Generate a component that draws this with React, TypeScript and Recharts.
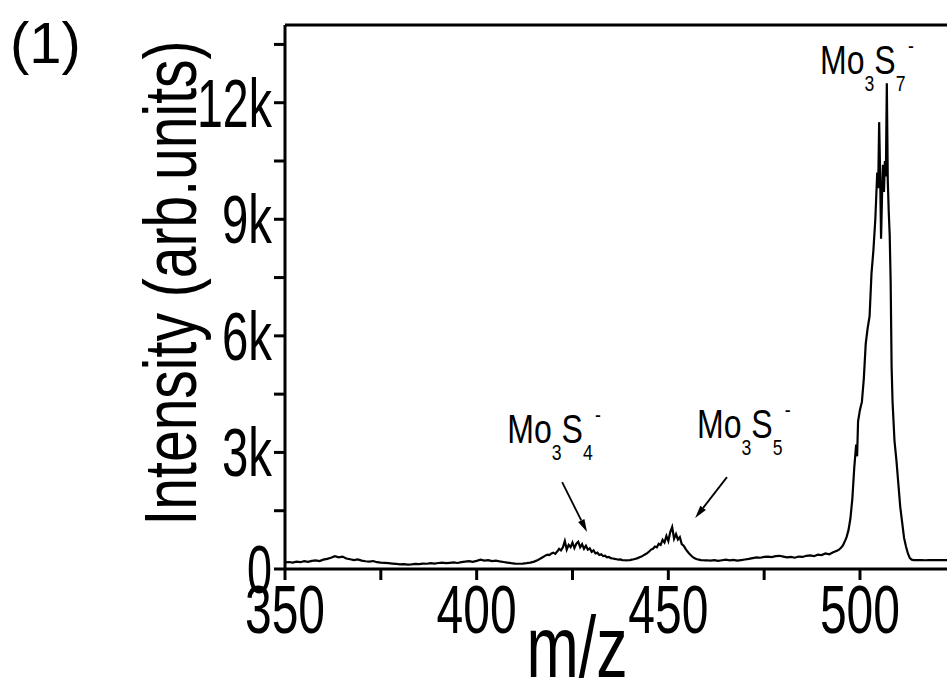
import { LineChart, Line, XAxis, YAxis, ReferenceLine, ReferenceDot } from 'recharts';

const FONT = "'Liberation Sans', Arial, sans-serif";

// [m/z, intensity], split by region
const lowMass = [
  [350, 170], [351, 180], [352, 165], [353, 190], [354, 175], [355, 200], [356, 185], [357, 210],
  [358, 220], [359, 205], [360, 240], [361, 260], [362, 290], [363, 330], [364, 300], [365, 320],
  [366, 270], [367, 250], [368, 230], [369, 245], [370, 215], [371, 200], [372, 190], [373, 205],
  [374, 175], [375, 165], [376, 160], [377, 150], [378, 140], [379, 130], [380, 120], [381, 125],
  [382, 115], [383, 120], [384, 130], [385, 125], [386, 140], [387, 135], [388, 150], [389, 140],
  [390, 155], [391, 165], [392, 150], [393, 160], [394, 170], [395, 155], [396, 175], [397, 190],
  [398, 200], [399, 185], [400, 210], [401, 240], [402, 215], [403, 230], [404, 205], [405, 215],
  [406, 195], [407, 180], [408, 165], [409, 150], [410, 140], [411, 135], [412, 140], [413, 150],
  [414, 165], [415, 190], [416, 230],
];

const mo3s4Region = [
  [416.5, 260], [417, 290], [417.5, 320], [418, 350], [418.5, 370], [419, 360], [419.5, 400],
  [420, 420], [420.5, 390], [421, 450], [421.5, 520], [422, 480], [422.5, 560], [423, 720],
  [423.5, 500], [424, 620], [424.5, 560], [425, 680], [425.5, 540], [426, 650], [426.5, 700],
  [427, 560], [427.5, 640], [428, 520], [428.5, 600], [429, 500], [429.5, 530], [430, 440],
  [430.5, 480], [431, 400], [431.5, 420], [432, 360], [432.5, 380], [433, 330], [433.5, 340],
  [434, 300], [434.5, 310], [435, 280], [435.5, 270], [436, 260], [436.5, 250], [437, 240],
  [437.5, 245], [438, 230], [438.5, 225], [439, 220], [439.5, 225], [440, 230], [440.5, 240],
  [441, 250], [441.5, 265], [442, 280], [442.5, 300],
];

const mo3s5Region = [
  [443, 320], [443.5, 350], [444, 380], [444.5, 410], [445, 450], [445.5, 500], [446, 520],
  [446.5, 580], [447, 560], [447.5, 650], [448, 620], [448.5, 750], [449, 680], [449.5, 850],
  [450, 720], [450.5, 950], [451, 1080], [451.5, 780], [452, 900], [452.5, 760], [453, 820],
  [453.5, 640], [454, 600], [454.5, 520], [455, 450], [455.5, 390], [456, 340], [456.5, 300],
  [457, 270], [457.5, 250], [458, 240], [458.5, 230], [459, 225], [459.5, 220], [460, 225],
];

const midMass = [
  [461, 215], [462, 230], [463, 210], [464, 225], [465, 240], [466, 220], [467, 235], [468, 215],
  [469, 230], [470, 245], [471, 260], [472, 280], [473, 300], [474, 290], [475, 310], [476, 320],
  [477, 305], [478, 330], [479, 340], [480, 320], [481, 300], [482, 310], [483, 290], [484, 320],
  [485, 310], [486, 340], [487, 350], [488, 330], [489, 370], [490, 360], [491, 400], [492, 380],
  [493, 430], [494, 470],
];

const mo3s7Region = [
  [494.5, 500], [495, 540], [495.5, 600], [496, 700], [496.5, 820], [497, 1000], [497.5, 1300],
  [498, 1800], [498.5, 2600], [499, 3200], [499.25, 2900], [499.5, 3800], [500, 4100],
  [500.5, 4300], [501, 4900], [501.5, 5800], [502, 6200], [502.5, 6500], [503, 7600],
  [503.5, 8200], [504, 9000], [504.25, 9600], [504.5, 10200], [504.75, 9800], [505, 11500],
  [505.25, 10200], [505.5, 8500], [505.75, 9600], [506, 10400], [506.25, 9700], [506.5, 10500],
  [506.75, 10100], [507, 12500], [507.25, 10000], [507.5, 9200], [507.75, 8600], [508, 7400],
  [508.25, 5200], [508.5, 4300], [509, 3300], [509.5, 2800], [510, 2200], [510.5, 1600],
  [511, 1200], [511.5, 800], [512, 580], [512.5, 400], [513, 280], [513.5, 240], [514, 230],
];

const highMass = [
  [515, 228], [516, 230], [517, 225], [518, 230], [519, 228], [520, 232], [521, 230], [522, 228], [523, 230],
];

const xTicks = [350, 375, 400, 425, 450, 475, 500];
const yTicks = [0, 1500, 3000, 4500, 6000, 7500, 9000, 10500, 12000, 13500];

const data = [...lowMass, ...mo3s4Region, ...mo3s5Region, ...midMass, ...mo3s7Region, ...highMass].map(
  ([mz, v]) => ({ mz, v })
);

const XTick = (props: any) => {
  const { x, y, payload } = props;
  const v = payload.value;
  if (v % 50 !== 0) return <g />;
  const s = String(v);
  return (
    <text x={x} y={y + 51} textAnchor="middle" fontSize={68} fontFamily={FONT} fill="#000"
      textLength={s.length * 26.7} lengthAdjust="spacingAndGlyphs">{s}</text>
  );
};

const YTick = (props: any) => {
  const { x, y, payload } = props;
  const v = payload.value;
  if (v % 3000 !== 0) return <g />;
  const s = v === 0 ? '0' : `${v / 1000}k`;
  return (
    <text x={x} y={y + 24} textAnchor="end" fontSize={68} fontFamily={FONT} fill="#000"
      textLength={s.length * 25} lengthAdjust="spacingAndGlyphs">{s}</text>
  );
};

const Formula = ({ cx, cy, n }: any) => (
  <g transform={`translate(${cx},${cy}) scale(0.8,1)`}>
    <text x={0} y={0} fontFamily={FONT} fill="#000">
      <tspan fontSize={40}>Mo</tspan>
      <tspan fontSize={22} dy={17}>3</tspan>
      <tspan fontSize={40} dy={-17}>S</tspan>
      <tspan fontSize={22} dy={17}>{n}</tspan>
      <tspan fontSize={22} dy={-38} dx={3}>-</tspan>
    </text>
  </g>
);

const Arrow = (props: any) => {
  const { x1, y1, x2, y2 } = props;
  const a = Math.atan2(y2 - y1, x2 - x1);
  const len = 13;
  const w = 3.5;
  const bx = x2 - len * Math.cos(a);
  const by = y2 - len * Math.sin(a);
  const px = -Math.sin(a) * w;
  const py = Math.cos(a) * w;
  return (
    <g>
      <line x1={x1} y1={y1} x2={bx} y2={by} stroke="#000" strokeWidth={1.8} />
      <polygon points={`${x2},${y2} ${bx + px},${by + py} ${bx - px},${by - py}`} fill="#000" />
    </g>
  );
};

const YLabel = () => (
  <text x={196} y={283} transform="rotate(-90 196 283)" textAnchor="middle" fontSize={74}
    fontFamily={FONT} fill="#000" textLength={485} lengthAdjust="spacingAndGlyphs">
    Intensity (arb.units)
  </text>
);

const XLabel = () => (
  <text x={577} y={677} textAnchor="middle" fontSize={88} fontFamily={FONT} fill="#000"
    textLength={101} lengthAdjust="spacingAndGlyphs">m/z</text>
);

export default function App() {
  return (
    <div style={{ position: 'absolute', left: 0, top: 0, width: 947, height: 683, overflow: 'hidden', background: '#fff' }}>
      <div style={{ position: 'absolute', left: 10, top: 14, fontFamily: FONT, fontSize: 58, lineHeight: 1, color: '#000' }}>
        (1)
      </div>
      <LineChart width={947} height={683} data={data} margin={{ top: 25, right: 0, bottom: 0, left: 0 }}>
        <XAxis
          type="number"
          dataKey="mz"
          domain={[350, 522.7]}
          allowDataOverflow
          ticks={xTicks}
          interval={0}
          height={114}
          tickSize={11}
          tickMargin={2}
          axisLine={{ stroke: '#000', strokeWidth: 3 }}
          tickLine={{ stroke: '#000', strokeWidth: 3 }}
          tick={<XTick />}
          label={<XLabel />}
        />
        <YAxis
          type="number"
          domain={[0, 14000]}
          allowDataOverflow
          ticks={yTicks}
          interval={0}
          width={285}
          tickSize={11}
          tickMargin={2}
          axisLine={{ stroke: '#000', strokeWidth: 3 }}
          tickLine={{ stroke: '#000', strokeWidth: 3 }}
          tick={<YTick />}
          label={<YLabel />}
        />
        <ReferenceLine y={14000} stroke="#000" strokeWidth={3} />
        <Line type="linear" dataKey="v" stroke="#000" strokeWidth={2.2} dot={false} isAnimationActive={false} />
        <ReferenceLine segment={[{ x: 422.3, y: 2235 }, { x: 428.8, y: 950 }]} shape={<Arrow />} />
        <ReferenceLine segment={[{ x: 465.3, y: 2365 }, { x: 457.0, y: 1310 }]} shape={<Arrow />} />
        <ReferenceDot x={408} y={3240} r={0} shape={<Formula n="4" />} />
        <ReferenceDot x={457.5} y={3370} r={0} shape={<Formula n="5" />} />
        <ReferenceDot x={489.6} y={12750} r={0} shape={<Formula n="7" />} />
      </LineChart>
    </div>
  );
}
